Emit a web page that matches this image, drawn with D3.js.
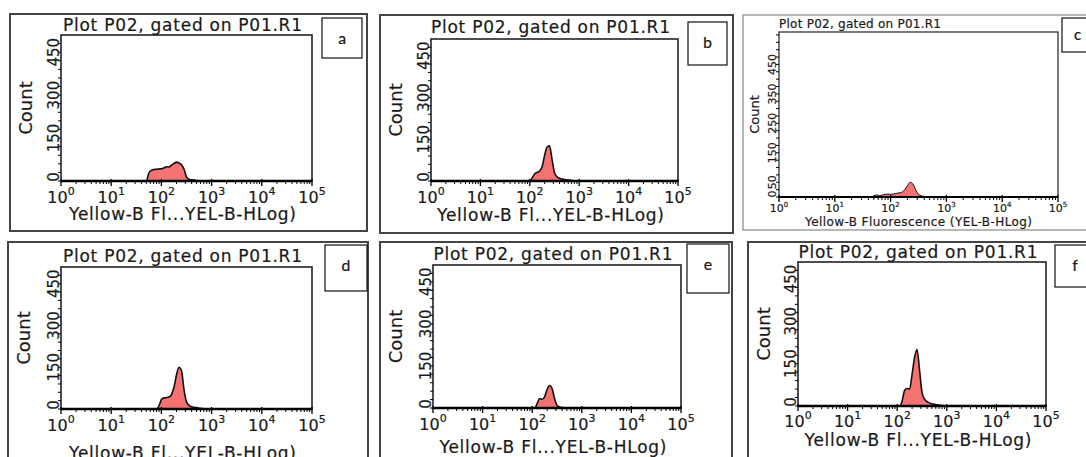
<!DOCTYPE html>
<html lang="en">
<head>
    <meta charset="UTF-8">
    <title>Plot P02, gated on P01.R1</title>
    <script src="https://d3js.org/d3.v7.min.js"></script>
    <style>
        body { margin: 0; background: #fff; }
        svg { font-family: "DejaVu Sans", Verdana, sans-serif; }
        svg text { fill: #1a1a1a; stroke: #1a1a1a; stroke-width: 0.2; }
    </style>
</head>
<body>
    <div id="chart-container"></div>
    <script>
        // log10 of the Yellow-B fluorescence bin centres
        const logBins = [1.60, 1.65, 1.70, 1.75, 1.80, 1.85, 1.90, 1.95, 2.00, 2.05, 2.10,
                         2.15, 2.20, 2.25, 2.30, 2.35, 2.40, 2.45, 2.50, 2.55, 2.60, 2.65,
                         2.70, 2.75, 2.80, 2.85, 2.90, 2.95, 3.00, 3.05, 3.10];

        const countsA = [0, 0, 0, 28, 37, 40, 41, 42, 43, 45, 50, 49, 55, 61, 66, 63, 57, 42, 14, 6, 4, 3, 2, 1, 1, 0, 0, 0, 0, 0, 0];
        const countsB = [0, 0, 0, 0, 0, 0, 0, 0, 0, 12, 26, 31, 36, 52, 92, 122, 126, 78, 30, 15, 10, 7, 5, 4, 3, 2, 1, 1, 0, 0, 0];
        const countsC = [0, 0, 4, 7, 5, 6, 9, 10, 9, 10, 12, 14, 16, 24, 38, 50, 44, 24, 9, 4, 2, 1, 1, 0, 0, 0, 0, 0, 0, 0, 0];
        const countsD = [0, 0, 0, 0, 0, 0, 0, 10, 34, 40, 41, 43, 52, 78, 122, 150, 138, 70, 26, 13, 8, 6, 5, 3, 2, 1, 1, 0, 0, 0, 0];
        const countsE = [0, 0, 0, 0, 0, 0, 0, 0, 0, 0, 16, 34, 31, 40, 66, 80, 70, 34, 10, 4, 2, 1, 1, 0, 0, 0, 0, 0, 0, 0, 0];
        const countsF = [0, 0, 0, 0, 0, 0, 0, 0, 0, 0, 18, 56, 62, 60, 112, 172, 200, 128, 48, 24, 16, 11, 8, 6, 4, 3, 2, 1, 0, 0, 0];

        const panelLetters = ["a", "b", "c", "d", "e", "f"];
        const xTickExps = [0, 1, 2, 3, 4, 5];
        const yTicksLarge = [0, 150, 300, 450];
        const yTicksSmall = [0, 50, 150, 250, 350, 450];
        const titleText = "Plot P02, gated on P01.R1";
        const xLabelShort = "Yellow-B Fl...YEL-B-HLog)";
        const xLabelLong = "Yellow-B Fluorescence (YEL-B-HLog)";

        const W = 1086, H = 457;
        const fillColor = "#f47272";

        // layout per panel: outer frame, plot area, letter box
        const panels = [
            { counts: countsA, frame: [10, 14, 357, 217], plot: [61, 35, 251, 146], box: [322, 18, 40, 40], titleY: 31, tickDy: 22, xlabDy: 39, ymax: 510, small: false },
            { counts: countsB, frame: [380, 15, 353, 218], plot: [431, 39, 247, 142], box: [688, 22, 39, 43], titleY: 33, tickDy: 22, xlabDy: 40, ymax: 510, small: false },
            { counts: countsC, frame: [743, 15, 360, 215], plot: [779, 32, 279, 165], box: [1062, 18, 40, 34], titleY: 28, tickDy: 15, xlabDy: 29, ymax: 560, small: true },
            { counts: countsD, frame: [8, 242, 360, 230], plot: [61, 267, 251, 142], box: [325, 245, 42, 46], titleY: 262, tickDy: 22, xlabDy: 50, ymax: 510, small: false },
            { counts: countsE, frame: [380, 242, 352, 230], plot: [433, 265, 248, 143], box: [687, 244, 42, 49], titleY: 260, tickDy: 22, xlabDy: 45, ymax: 510, small: false },
            { counts: countsF, frame: [748, 242, 360, 230], plot: [798, 262, 248, 144], box: [1055, 245, 40, 42], titleY: 258, tickDy: 21, xlabDy: 40, ymax: 510, small: false }
        ];

        const svg = d3.select("#chart-container")
            .append("svg")
            .attr("width", W)
            .attr("height", H);

        panels.forEach((p, i) => {
            const [fx, fy, fw, fh] = p.frame;
            const [px, py, pw, ph] = p.plot;
            const g = svg.append("g");

            g.append("rect")
                .attr("x", fx).attr("y", fy).attr("width", fw).attr("height", fh)
                .attr("fill", "none")
                .attr("stroke", p.small ? "#888" : "#444")
                .attr("stroke-width", p.small ? 1.2 : 2);

            const x = d3.scaleLog().domain([1, 1e5]).range([px, px + pw]);
            const y = d3.scaleLinear().domain([0, p.ymax]).range([py + ph, py]);

            // histogram
            const data = logBins.map((b, j) => ({ v: Math.pow(10, b), c: p.counts[j] }));
            const area = d3.area()
                .x(d => x(d.v))
                .y0(y(0))
                .y1(d => y(d.c))
                .curve(d3.curveMonotoneX);
            const line = d3.line()
                .x(d => x(d.v))
                .y(d => y(d.c))
                .curve(d3.curveMonotoneX);

            g.append("path").datum(data)
                .attr("d", area)
                .attr("fill", fillColor);
            g.append("path").datum(data)
                .attr("d", line)
                .attr("fill", "none")
                .attr("stroke", "#111")
                .attr("stroke-width", p.small ? 1 : 1.6);

            // plot frame
            g.append("rect")
                .attr("x", px).attr("y", py).attr("width", pw).attr("height", ph)
                .attr("fill", "none")
                .attr("stroke", "#222")
                .attr("stroke-width", p.small ? 1.2 : 1.6);

            // x axis: thick baseline, major and minor log ticks
            g.append("line")
                .attr("x1", px).attr("x2", px + pw)
                .attr("y1", py + ph).attr("y2", py + ph)
                .attr("stroke", "#000").attr("stroke-width", p.small ? 2 : 2.5);

            const minor = [];
            xTickExps.slice(0, -1).forEach(e => {
                for (let k = 2; k <= 9; k++) minor.push(k * Math.pow(10, e));
            });
            g.selectAll(".xminor").data(minor).join("line")
                .attr("x1", d => x(d)).attr("x2", d => x(d))
                .attr("y1", py + ph).attr("y2", py + ph + 3)
                .attr("stroke", "#000").attr("stroke-width", 1);
            g.selectAll(".xmajor").data(xTickExps).join("line")
                .attr("x1", e => x(Math.pow(10, e))).attr("x2", e => x(Math.pow(10, e)))
                .attr("y1", py + ph - 2).attr("y2", py + ph + 5)
                .attr("stroke", "#000").attr("stroke-width", 1.3);

            const fs = p.small ? 11 : 16;
            const fsSup = p.small ? 7 : 11;
            const labs = g.selectAll(".xlab").data(xTickExps).join("text")
                .attr("x", e => x(Math.pow(10, e)))
                .attr("y", py + ph + p.tickDy)
                .attr("font-size", fs)
                .attr("text-anchor", "middle");
            labs.append("tspan").text("10");
            labs.append("tspan")
                .attr("dy", p.small ? -5 : -8)
                .attr("font-size", fsSup)
                .text(e => e);

            g.append("text")
                .attr("x", px + pw / 2 + (p.small ? 0 : -4))
                .attr("y", py + ph + p.xlabDy)
                .attr("text-anchor", "middle")
                .attr("font-size", p.small ? 12 : 17)
                .attr("textLength", 227)
                .attr("lengthAdjust", "spacing")
                .text(p.small ? xLabelLong : xLabelShort);

            // y axis ticks and rotated labels
            const yMinor = d3.range(0, p.ymax, p.small ? 25 : 30);
            g.selectAll(".yminor").data(yMinor).join("line")
                .attr("x1", px - 3).attr("x2", px)
                .attr("y1", d => y(d)).attr("y2", d => y(d))
                .attr("stroke", "#000").attr("stroke-width", 1);
            const yTicks = p.small ? yTicksSmall : yTicksLarge;
            g.selectAll(".ylab").data(yTicks).join("text")
                .attr("transform", d => `translate(${px - (p.small ? 3 : 2)},${Math.min(y(d), py + ph - (p.small ? 3 : 4))}) rotate(-90)`)
                .attr("text-anchor", "middle")
                .attr("font-size", p.small ? 11 : 15)
                .text(d => d);

            g.append("text")
                .attr("transform", `translate(${p.small ? fx + 16 : fx + 22},${py + ph / 2}) rotate(-90)`)
                .attr("text-anchor", "middle")
                .attr("font-size", p.small ? 13 : 18)
                .text("Count");

            // title
            g.append("text")
                .attr("x", p.small ? px : px + pw / 2 - 4)
                .attr("y", p.titleY)
                .attr("text-anchor", p.small ? "start" : "middle")
                .attr("font-size", p.small ? 12 : 17)
                .attr("textLength", p.small ? 162 : 239)
                .attr("lengthAdjust", "spacing")
                .text(titleText);

            // letter box
            const [bx, by, bw, bh] = p.box;
            g.append("rect")
                .attr("x", bx).attr("y", by).attr("width", bw).attr("height", bh)
                .attr("fill", "#fff")
                .attr("stroke", "#111")
                .attr("stroke-width", 1.2);
            g.append("text")
                .attr("x", p.small ? bx + 12 : bx + bw / 2)
                .attr("y", by + (p.small ? 22 : 26))
                .attr("text-anchor", p.small ? "start" : "middle")
                .attr("font-family", "Carlito, 'Liberation Sans', sans-serif")
                .attr("font-size", 17)
                .text(panelLetters[i]);
        });
    </script>
</body>
</html>
